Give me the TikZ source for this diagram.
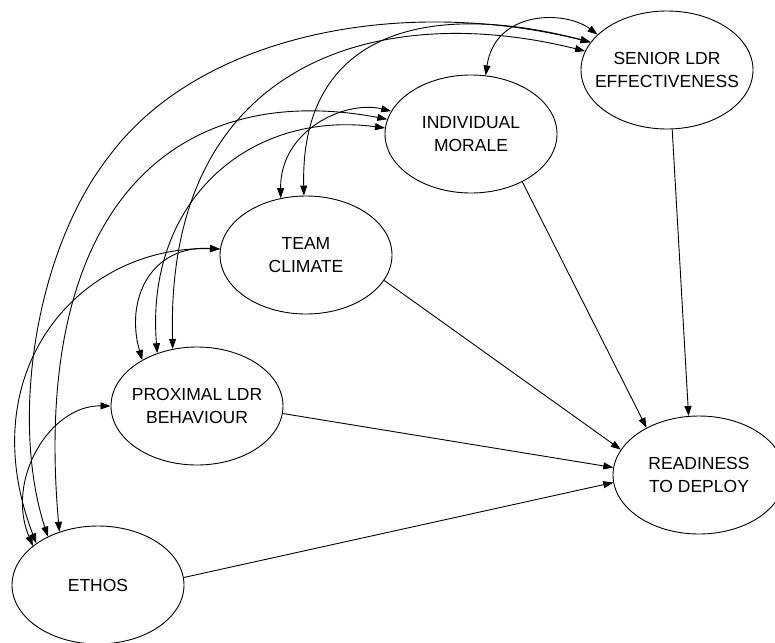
\documentclass[tikz,border=0pt]{standalone}
\usepackage{fontspec}
\setmainfont{Liberation Sans}
\usetikzlibrary{shapes.geometric,arrows.meta}
\begin{document}
\begin{tikzpicture}[x=1pt,y=-1pt,
  var/.style={ellipse,draw,line width=0.9pt,minimum width=172pt,minimum height=118pt,inner sep=0pt},
  lbl/.style={align=center,inner sep=0pt,font=\fontsize{17.5}{23}\selectfont},
  effect/.style={line width=0.9pt,-{Triangle[length=10pt,width=7pt]}},
  cov/.style={line width=0.9pt,{Triangle[length=10pt,width=7pt]}-{Triangle[length=10pt,width=7pt]}}]
\useasboundingbox (0,0) rectangle (775,642);

% latent variables
\node[var] (S) at (667,70) {};
\node[var] (I) at (471,134) {};
\node[var] (T) at (306,255) {};
\node[var] (P) at (197,406) {};
\node[var] (R) at (699,475) {};
\node[var] (E) at (98,585) {};

\node[lbl] (St) at (S) {SENIOR LDR\\EFFECTIVENESS};
\node[lbl] (It) at (I) {INDIVIDUAL\\MORALE};
\node[lbl] (Tt) at (T) {TEAM\\CLIMATE};
\node[lbl] (Pt) at (P) {PROXIMAL LDR\\BEHAVIOUR};
\node[lbl] (Rt) at (R) {READINESS\\TO DEPLOY};
\node[lbl] (Et) at (E) {ETHOS};

% direct effects on readiness
\draw[effect] (S.-85) -- (R.100);
\draw[effect] (I.-43) -- (R.138);
\draw[effect] (T.-18) -- (R.162);
\draw[effect] (P.-5) -- (R.175);
\draw[effect] (E.5) -- (R.-175);

% covariances among predictors
\draw[cov] (S.153) .. controls (565,10) and (495,10) .. (I.76);
\draw[cov] (S.160) .. controls (430,0) and (300,30) .. (T.92);
\draw[cov] (S.167) .. controls (380,0) and (165,60) .. (P.113);
\draw[cov] (S.160) .. controls (400,-5) and (200,35) .. (110,155)
                   .. controls (35,250) and (10,420) .. (E.136);
\draw[cov] (I.164) .. controls (345,100) and (280,130) .. (T.114);
\draw[cov] (I.176) .. controls (250,110) and (145,200) .. (P.127);
\draw[cov] (I.170) .. controls (180,80) and (30,200) .. (E.126);
\draw[cov] (T.176) .. controls (150,245) and (125,300) .. (P.140);
\draw[cov] (T.176) .. controls (80,245) and (-30,370) .. (E.146);
\draw[cov] (P.180) .. controls (50,405) and (5,480) .. (E.149);
\end{tikzpicture}
\end{document}
